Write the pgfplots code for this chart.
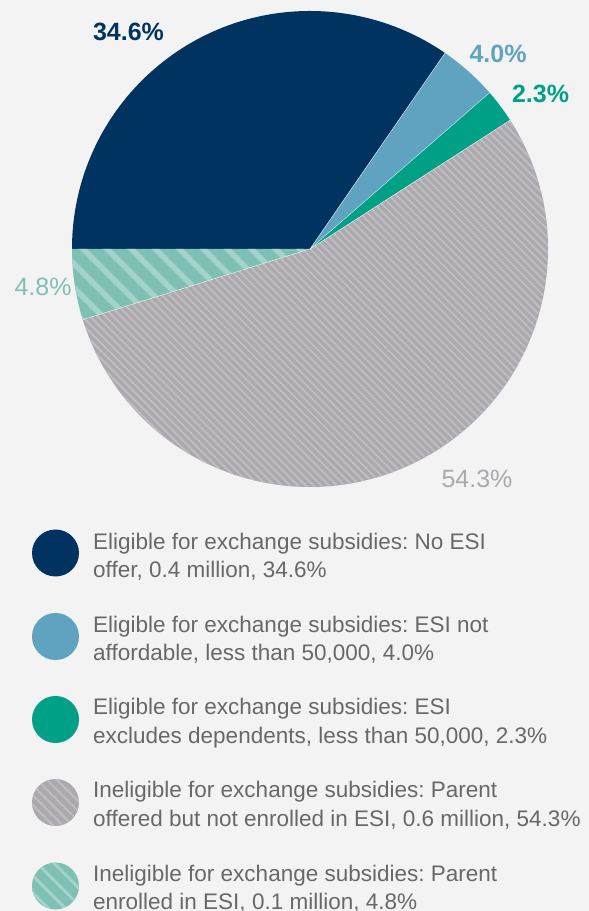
\documentclass[border=0pt]{standalone}
\usepackage{pgfplots}
\pgfplotsset{compat=1.18}
\usepackage{fontspec}
\setmainfont{Liberation Sans}
\usetikzlibrary{patterns.meta}
\frenchspacing
\definecolor{bg}{HTML}{F3F3F3}
\definecolor{navy}{HTML}{00335F}
\definecolor{lblue}{HTML}{5FA3C0}
\definecolor{teal1}{HTML}{00A086}
\definecolor{gray1}{HTML}{ABA9AE}
\definecolor{gstripe}{HTML}{BFBDC2}
\definecolor{lteal}{HTML}{7FC0B4}
\definecolor{tstripe}{HTML}{A3D3C9}
\definecolor{txt}{HTML}{686868}
% slice values (percent)
\def\vA{34.6}
\def\vB{4.0}
\def\vC{2.3}
\def\vD{54.3}
\def\vE{4.8}
\pgfmathsetmacro\aZ{180}
\pgfmathsetmacro\aA{\aZ-3.6*\vA}
\pgfmathsetmacro\aB{\aA-3.6*\vB}
\pgfmathsetmacro\aC{\aB-3.6*\vC}
\pgfmathsetmacro\aD{\aC-3.6*\vD}
\pgfmathsetmacro\aE{\aD-3.6*\vE}
\newcommand{\legfont}{\fontsize{22.5bp}{28bp}\selectfont\frenchspacing}
\newcommand{\labfont}{\fontsize{25bp}{28bp}\selectfont}
\begin{document}
\begin{tikzpicture}
\begin{axis}[x=1bp,y=1bp,xmin=0,xmax=589,ymin=0,ymax=911,hide axis,clip=false,scale only axis]
\coordinate (BL) at (axis cs:0,0);
\coordinate (TR) at (axis cs:589,911);
\fill[bg] (axis cs:0,0) rectangle (axis cs:589,911);
% pie, centre (310,662), radius 238
\fill[navy] (axis cs:310,662) -- ++(\aZ:238bp) arc[start angle=\aZ,end angle=\aA,radius=238bp] -- cycle;
\fill[lblue] (axis cs:310,662) -- ++(\aA:238bp) arc[start angle=\aA,end angle=\aB,radius=238bp] -- cycle;
\fill[teal1] (axis cs:310,662) -- ++(\aB:238bp) arc[start angle=\aB,end angle=\aC,radius=238bp] -- cycle;
\fill[gray1,postaction={pattern={Lines[angle=-45,distance=5.5bp,line width=2bp]},pattern color=gstripe}] (axis cs:310,662) -- ++(\aC:238bp) arc[start angle=\aC,end angle=\aD,radius=238bp] -- cycle;
\fill[lteal,postaction={pattern={Lines[angle=-45,distance=17bp,line width=5.5bp]},pattern color=tstripe}] (axis cs:310,662) -- ++(\aD:238bp) arc[start angle=\aD,end angle=\aE,radius=238bp] -- cycle;
\draw[white,line width=0.5bp,opacity=0.7] (axis cs:310,662) -- ++(\aA:238bp);
\draw[white,line width=0.5bp,opacity=0.7] (axis cs:310,662) -- ++(\aB:238bp);
\draw[white,line width=0.5bp,opacity=0.7] (axis cs:310,662) -- ++(\aC:238bp);
\draw[white,line width=0.5bp,opacity=0.7] (axis cs:310,662) -- ++(\aD:238bp);
% slice labels
\node[inner sep=0,text=navy,font=\labfont\bfseries] at (axis cs:128.5,879) {34.6\%};
\node[inner sep=0,text=lblue,font=\labfont\bfseries] at (axis cs:498,857) {4.0\%};
\node[inner sep=0,text=teal1,font=\labfont\bfseries] at (axis cs:540.5,817) {2.3\%};
\node[inner sep=0,text=gray1,font=\labfont] at (axis cs:477,432) {54.3\%};
\node[inner sep=0,text=lteal,font=\labfont] at (axis cs:43,624) {4.8\%};
% legend
\fill[navy] (axis cs:55.5,358) circle[radius=23.5bp];
\fill[lblue] (axis cs:55.5,274.5) circle[radius=23.5bp];
\fill[teal1] (axis cs:55.5,191.5) circle[radius=23.5bp];
\fill[gray1,postaction={pattern={Lines[angle=-45,distance=7bp,line width=2bp]},pattern color=gstripe}] (axis cs:55.5,108.5) circle[radius=23.5bp];
\fill[lteal,postaction={pattern={Lines[angle=-45,distance=12bp,line width=3bp]},pattern color=tstripe}] (axis cs:55.5,25) circle[radius=23.5bp];
\begin{scope}[every node/.style={anchor=base west,inner sep=0,text=txt,font=\legfont}]
\node at (axis cs:93,361.7) {Eligible for exchange subsidies: No ESI};
\node at (axis cs:93,333.7) {offer, 0.4 million, 34.6\%};
\node at (axis cs:93,278.7) {Eligible for exchange subsidies: ESI not};
\node at (axis cs:93,250.3) {affordable, less than 50,000, 4.0\%};
\node at (axis cs:93,196) {Eligible for exchange subsidies: ESI};
\node at (axis cs:93,167.7) {excludes dependents, less than 50,000, 2.3\%};
\node at (axis cs:93,113) {Ineligible for exchange subsidies: Parent};
\node at (axis cs:93,84.7) {offered but not enrolled in ESI, 0.6 million, 54.3\%};
\node at (axis cs:93,29.5) {Ineligible for exchange subsidies: Parent};
\node at (axis cs:93,1.2) {enrolled in ESI, 0.1 million, 4.8\%};
\end{scope}
\end{axis}
\pgfresetboundingbox
\useasboundingbox (BL) rectangle (TR);
\end{tikzpicture}
\end{document}
